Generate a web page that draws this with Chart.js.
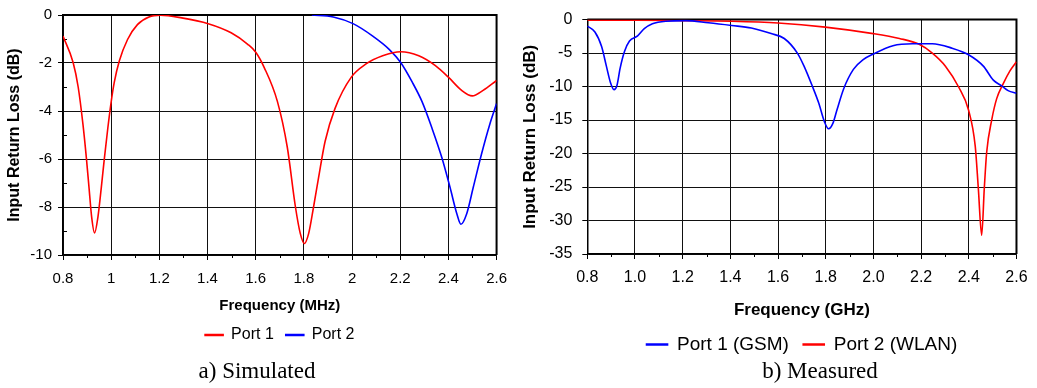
<!DOCTYPE html>
<html>
<head>
<meta charset="utf-8">
<script src="https://cdn.jsdelivr.net/npm/chart.js"></script>
<style>
  body { margin: 0; background: #fff; width: 1037px; height: 388px; overflow: hidden; position: relative; }
  .box { position: absolute; top: 0; height: 388px; }
  .cap { position: absolute; top: 358px; font: 23px/26px "Liberation Serif", "Times New Roman", serif; color: #000;
         transform: translateX(-50%); white-space: nowrap; }
</style>
</head>
<body>
<div class="box" style="left:0;width:517px"><canvas id="sim"></canvas></div>
<div class="box" style="left:517px;width:520px"><canvas id="meas"></canvas></div>
<div class="cap" style="left:257px">a) Simulated</div>
<div class="cap" style="left:820px">b) Measured</div>
<script>
// a) simulated
const simPort1Freq = [0.8, 0.842, 0.863, 0.883, 0.897, 0.908, 0.919, 0.931, 0.945, 0.959, 0.972, 0.986, 1.0, 1.013, 1.034, 1.068, 1.109, 1.157, 1.205, 1.293, 1.403, 1.498, 1.567, 1.601, 1.635, 1.69, 1.731, 1.765, 1.785, 1.802, 1.82, 1.84, 1.861, 1.888, 1.929, 1.997, 2.058, 2.127, 2.202, 2.277, 2.346, 2.4, 2.455, 2.499, 2.544, 2.6];
const simPort1Loss = [-0.88, -1.98, -3.0, -4.57, -5.95, -7.19, -8.42, -9.08, -8.42, -7.19, -5.95, -4.72, -3.62, -2.8, -1.91, -1.02, -0.4, -0.08, -0.01, -0.12, -0.36, -0.74, -1.22, -1.56, -2.18, -3.6, -5.5, -8.0, -9.1, -9.52, -9.1, -8.01, -6.78, -5.27, -3.9, -2.59, -2.04, -1.7, -1.53, -1.7, -2.11, -2.59, -3.14, -3.37, -3.14, -2.73];
const simPort2Freq = [1.833, 1.922, 2.004, 2.086, 2.154, 2.202, 2.25, 2.291, 2.332, 2.373, 2.407, 2.435, 2.452, 2.476, 2.503, 2.537, 2.571, 2.6];
const simPort2Loss = [0, -0.08, -0.36, -0.88, -1.43, -1.98, -2.8, -3.62, -4.72, -5.95, -7.19, -8.28, -8.72, -8.28, -7.19, -5.81, -4.58, -3.69];

// b) measured
const gsmFreq = [0.8, 0.832, 0.86, 0.88, 0.897, 0.912, 0.924, 0.938, 0.956, 0.977, 1.011, 1.039, 1.073, 1.129, 1.212, 1.308, 1.405, 1.488, 1.571, 1.626, 1.681, 1.709, 1.743, 1.771, 1.794, 1.812, 1.83, 1.847, 1.875, 1.916, 1.957, 1.999, 2.082, 2.164, 2.247, 2.33, 2.399, 2.461, 2.503, 2.537, 2.565, 2.6];
const gsmLoss = [-0.97, -1.85, -4.03, -6.95, -9.38, -10.45, -9.87, -7.2, -4.76, -3.21, -2.43, -1.36, -0.63, -0.24, -0.15, -0.48, -0.88, -1.26, -2.09, -2.82, -5.0, -6.95, -9.87, -12.5, -15.2, -16.3, -15.5, -13.5, -10.35, -7.44, -5.98, -5.15, -3.89, -3.6, -3.6, -4.27, -5.25, -6.95, -9.04, -9.87, -10.6, -10.98];
const wlanFreq = [0.8, 1.0, 1.2, 1.405, 1.6, 1.798, 1.999, 2.109, 2.192, 2.247, 2.302, 2.358, 2.399, 2.427, 2.44, 2.454, 2.465, 2.475, 2.496, 2.517, 2.544, 2.572, 2.6];
const wlanLoss = [-0.1, -0.1, -0.15, -0.24, -0.5, -1.12, -2.09, -2.82, -3.69, -5.0, -6.95, -10.1, -13.5, -18.9, -25.2, -32.2, -25.2, -19.8, -15.0, -11.8, -9.6, -7.7, -6.3];

const freqMin = 0.8, freqMax = 2.6, freqStep = 0.2;

Chart.defaults.font.family = '"Liberation Sans", Arial, sans-serif';
Chart.defaults.color = '#000';

// small ticks between the major ones + dark top/right frame
const frameTicks = {
  id: 'frameTicks',
  beforeDatasetsDraw(chart, args, opts) {
    const {ctx, chartArea: a, scales: {x, y}} = chart;
    ctx.save();
    ctx.strokeStyle = '#000';
    ctx.lineWidth = 1;
    ctx.beginPath();
    const xt = x.ticks;
    for (let i = 0; i < xt.length - 1; i++) {
      const px = Math.round(x.getPixelForValue((xt[i].value + xt[i + 1].value) / 2)) + 0.5;
      ctx.moveTo(px, a.bottom);
      ctx.lineTo(px, a.bottom + 3);
    }
    if (opts.yMinor) {
      const yt = y.ticks;
      for (let i = 0; i < yt.length - 1; i++) {
        const py = Math.round(y.getPixelForValue((yt[i].value + yt[i + 1].value) / 2)) + 0.5;
        ctx.moveTo(a.left, py);
        ctx.lineTo(a.left + 4, py);
      }
    }
    ctx.stroke();
    ctx.lineWidth = 2;
    ctx.beginPath();
    ctx.moveTo(a.left, a.top);
    ctx.lineTo(a.right, a.top);
    ctx.lineTo(a.right, a.bottom);
    ctx.stroke();
    ctx.restore();
  }
};

function series(label, color, freq, loss) {
  return {
    label: label,
    data: freq.map((f, i) => ({x: f, y: loss[i]})),
    borderColor: color,
    backgroundColor: color,
    borderWidth: 1.6,
    pointRadius: 0,
    cubicInterpolationMode: 'monotone',
    fill: false
  };
}

function makeChart(id, datasets, s) {
  return new Chart(document.getElementById(id), {
    type: 'line',
    data: {datasets: datasets},
    plugins: [frameTicks],
    options: {
      responsive: true,
      maintainAspectRatio: false,
      animation: false,
      layout: {padding: {top: s.top, right: 15, bottom: s.bottom, left: 0}},
      plugins: {
        legend: {
          position: 'bottom',
          fullSize: false,
          labels: {font: {size: s.legendSize}, boxWidth: s.boxWidth, boxHeight: 1, padding: s.legendPad}
        },
        tooltip: {enabled: false},
        frameTicks: {yMinor: s.yMinor}
      },
      scales: {
        x: {
          type: 'linear',
          min: freqMin,
          max: freqMax,
          ticks: {stepSize: freqStep, padding: s.xPad, font: {size: s.tickSize}, callback: s.xFmt},
          grid: {color: '#111', tickLength: 5, tickColor: '#000'},
          border: {color: '#000', width: 1.5},
          title: {display: true, text: s.xTitle, font: {size: s.xTitleSize, weight: 'bold'}, padding: {top: s.xTitlePad, bottom: 0}}
        },
        y: {
          min: s.yMin,
          max: 0,
          ticks: {stepSize: s.yStep, padding: s.yPad, font: {size: s.tickSize}},
          grid: {color: '#111', tickLength: 5, tickColor: '#000'},
          border: {color: '#000', width: 1.5},
          title: {display: true, text: 'Input Return Loss (dB)', font: {size: s.yTitleSize, weight: 'bold'}, padding: {top: s.yTitlePad, bottom: 0}},
          afterFit(scale) { scale.width = s.yWidth; }
        }
      }
    }
  });
}

makeChart('sim', [
  series('Port 1', '#ff0000', simPort1Freq, simPort1Loss),
  series('Port 2', '#0000ff', simPort2Freq, simPort2Loss)
], {
  top: 12, bottom: 35, yWidth: 63, yMin: -10, yStep: 2, yMinor: true,
  tickSize: 15, xPad: 10, yPad: 6, xTitle: 'Frequency (MHz)', xTitleSize: 15, xTitlePad: -1,
  yTitleSize: 16, yTitlePad: 5.4, legendSize: 16, legendPad: 12, boxWidth: 18,
  xFmt: v => String(+v.toFixed(1))
});

makeChart('meas', [
  series('Port 1 (GSM)', '#0000ff', gsmFreq, gsmLoss),
  series('Port 2 (WLAN)', '#ff0000', wlanFreq, wlanLoss)
], {
  top: 14, bottom: 24, yWidth: 70.3, yMin: -35, yStep: 5, yMinor: false,
  tickSize: 16, xPad: 9.4, yPad: 10, xTitle: 'Frequency (GHz)', xTitleSize: 17, xTitlePad: 3.3,
  yTitleSize: 17, yTitlePad: 2.8, legendSize: 19, legendPad: 14.3, boxWidth: 21,
  xFmt: v => v.toFixed(1)
});
</script>
</body>
</html>
